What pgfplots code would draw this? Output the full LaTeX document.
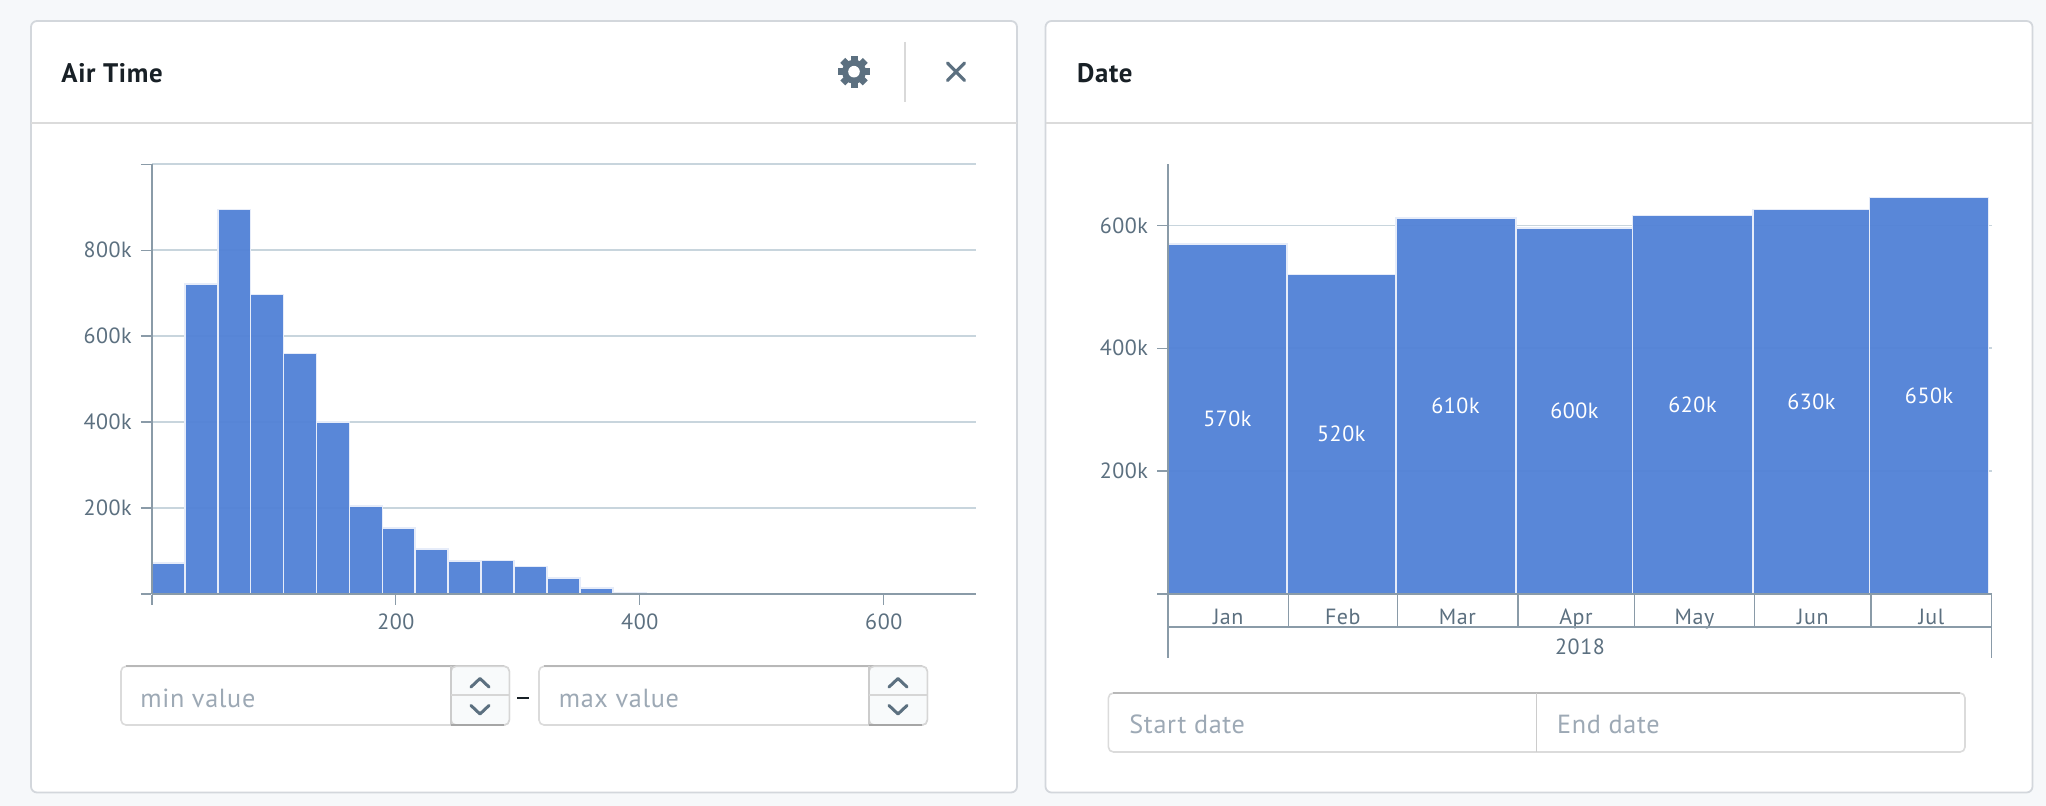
\documentclass[border=0pt]{standalone}
\usepackage{fontspec}
\setmainfont{PT Sans}[LetterSpace=2.5]
\usepackage{pgfplots}
\pgfplotsset{compat=1.18}
\definecolor{bgc}{HTML}{F6F8FA}
\definecolor{barc}{HTML}{5181D6}
\definecolor{baredge}{HTML}{E6ECF9}
\definecolor{axc}{HTML}{8A9BA8}
\definecolor{gridc}{HTML}{C8D5DD}
\definecolor{txt}{HTML}{5C7080}
\definecolor{ttl}{HTML}{182026}
\definecolor{ph}{HTML}{9DA9B5}
\definecolor{pan}{HTML}{D3D7DC}
\definecolor{stp}{HTML}{F8FAFB}
\newcommand{\inputbox}[4]{%
  \draw[rounded corners=2.5pt,fill=white,draw=black!14,line width=.8pt] (#1,#2) rectangle (#3,#4);
  \draw[black!28,line width=.8pt] (#1+5,#2) -- (#3-5,#2);
}
\newcommand{\stepper}[4]{%
  \draw[rounded corners=2.5pt,fill=stp,draw=black!16,line width=.8pt] (#1,#2) rectangle (#3,#4);
  \draw[black!20,line width=.8pt] (#1,#2) -- (#1,#4);
  \draw[black!16,line width=.8pt] (#1,695) -- (#3,695);
  \draw[black!35,line width=.8pt] (#1,#4) -- (#3-5,#4);
  \draw[txt,line width=1.5pt,line cap=round,line join=round] (#1+20,687) -- (#1+29,678.5) -- (#1+38,687);
  \draw[txt,line width=1.5pt,line cap=round,line join=round] (#1+20,705.5) -- (#1+29,714) -- (#1+38,705.5);
}
\begin{document}
\begin{tikzpicture}
\path[use as bounding box] (0,0) rectangle (1023pt,-403pt);
\begin{scope}[x=.5pt,y=-.5pt]
\fill[bgc] (0,0) rectangle (2046,806);
\foreach \a/\b in {31/1017,1045.5/2032.5}{
  \draw[rounded corners=3pt,fill=white,draw=pan,line width=.9pt] (\a,21) rectangle (\b,792.5);
  \draw[black!14,line width=.8pt] (\a,123) -- (\b,123);
}
\node[anchor=west,inner sep=0,font=\fontsize{13.4}{15}\selectfont\bfseries,text=ttl] at (61,72.7) {Air Time};
\node[anchor=west,inner sep=0,font=\fontsize{13.4}{15}\selectfont\bfseries,text=ttl] at (1076.7,72.7) {Date};
% gear
\foreach \r in {0,45,...,315}{
  \fill[txt,rotate around={\r:(854,71.7)}] (850.5,71.7) rectangle (857.5,55.8);
}
\fill[txt] (854,71.7) circle (6pt);
\fill[white] (854,71.7) circle (2.9pt);
\draw[black!15,line width=1pt] (905,42) -- (905,101.7);
\draw[txt,line width=1.6pt,line cap=round] (947.5,63) -- (964.5,80.5) (964.5,63) -- (947.5,80.5);
% inputs
\inputbox{121}{666.3}{509.3}{725}
\inputbox{539}{666.3}{927.3}{725}
\stepper{451}{666.3}{509.3}{725}
\stepper{869}{666.3}{927.3}{725}
\draw[ttl,line width=1pt] (517.3,697.7) -- (529.3,697.7);
\node[anchor=west,inner sep=0,font=\fontsize{13.1}{15}\selectfont,text=ph] at (140,698.5) {min value};
\node[anchor=west,inner sep=0,font=\fontsize{13.1}{15}\selectfont,text=ph] at (558.5,698.5) {max value};
\inputbox{1108.4}{693}{1965}{752}
\draw[black!20,line width=.7pt] (1536.7,693) -- (1536.7,752);
\node[anchor=west,inner sep=0,font=\fontsize{13.1}{15}\selectfont,text=ph] at (1129,724) {Start date};
\node[anchor=west,inner sep=0,font=\fontsize{13.1}{15}\selectfont,text=ph] at (1556.8,724) {End date};
\end{scope}

\pgfplotsset{panel/.style={
  scale only axis,
  anchor=origin,
  clip=false,
  axis lines=left,
  axis line style={-,draw=axc,line width=.7pt},
  tick align=outside,
  major tick length=5.5pt,
  tick style={draw=axc,line width=.7pt},
  ymajorgrids,
  grid style={draw=gridc,line width=.85pt},
  tick label style={text=txt,font=\fontsize{11}{13}\selectfont},
  yticklabel style={xshift=-1pt},
  /pgf/number format/assume math mode=true,
  scaled ticks=false,
}}

\begin{axis}[panel,
  at={(75.9pt,-297pt)},
  width=412.1pt,height=214.85pt,
  xmin=0,xmax=675.6,ymin=0,ymax=1000000,
  xtick={0,200,400,600},xticklabels={,200,400,600},
  ytick={0,200000,400000,600000,800000,1000000},
  yticklabels={,200k,400k,600k,800k,},
  xticklabel style={yshift=-1pt},
]
\addplot[ybar interval=1,fill=barc,fill opacity=.95,draw=baredge,line width=.85pt] coordinates {
 (0,72000)(27,722000)(54,895000)(81,697000)(108,560000)(135,400000)(162,205000)(189,153500)
 (216,104500)(243,76000)(270,78000)(297,64000)(324,36500)(351,14700)(378,3500)(405,800)};
\draw[axc,line width=1.1pt] (axis cs:0,0) -- (axis cs:675.6,0);
\draw[axc,line width=.7pt] (axis cs:0,0) -- (axis cs:0,1000000);
\end{axis}

\begin{axis}[panel,
  at={(584pt,-297pt)},
  width=411.8pt,height=215pt,
  xmin=0,xmax=212,ymin=0,ymax=700000,
  xtick={15.5,45,74.5,105,135.5,166,196.5},
  xticklabels={Jan,Feb,Mar,Apr,May,Jun,Jul},
  xtick style={draw=none},
  major tick length=5.5pt,
  ytick={0,200000,400000,600000},
  yticklabels={,200k,400k,600k},
  xticklabel style={yshift=1.7pt},
]
\addplot[ybar interval=1,fill=barc,fill opacity=.95,draw=baredge,line width=.85pt] coordinates {
 (0,570000)(30.6,520000)(58.6,612000)(89.6,595600)(119.6,616000)(150.6,626000)(180.6,645600)(211.2,645600)};
\addplot[only marks,mark=none,nodes near coords,point meta=explicit symbolic,
  nodes near coords style={anchor=center,text=white,font=\fontsize{11}{13}\selectfont}] coordinates {
 (15.3,285000)[570k](44.6,260000)[520k](74,306000)[610k](104.6,298000)[600k](135,308000)[620k](165.6,313000)[630k](195.9,323000)[650k]};
\draw[axc,line width=1.1pt] (axis cs:0,0) -- (axis cs:212,0);
\draw[axc,line width=.7pt] (axis cs:0,0) -- (axis cs:0,700000);
\end{axis}

\begin{scope}[x=.5pt,y=-.5pt]
\foreach \x in {1288.5,1397.4,1518,1634.6,1754.5,1871}{
  \draw[axc,line width=.6pt] (\x,594) -- (\x,626.7);
}
\draw[axc,line width=.7pt] (1168,594) -- (1168,657.7);
\draw[axc,line width=.7pt] (1991.6,594) -- (1991.6,657.7);
\draw[axc,line width=1pt] (1168,626.7) -- (1991.6,626.7);
\node[anchor=center,inner sep=0,text=txt,font=\fontsize{11}{13}\selectfont] at (1580,647) {2018};
\end{scope}
\end{tikzpicture}
\end{document}
